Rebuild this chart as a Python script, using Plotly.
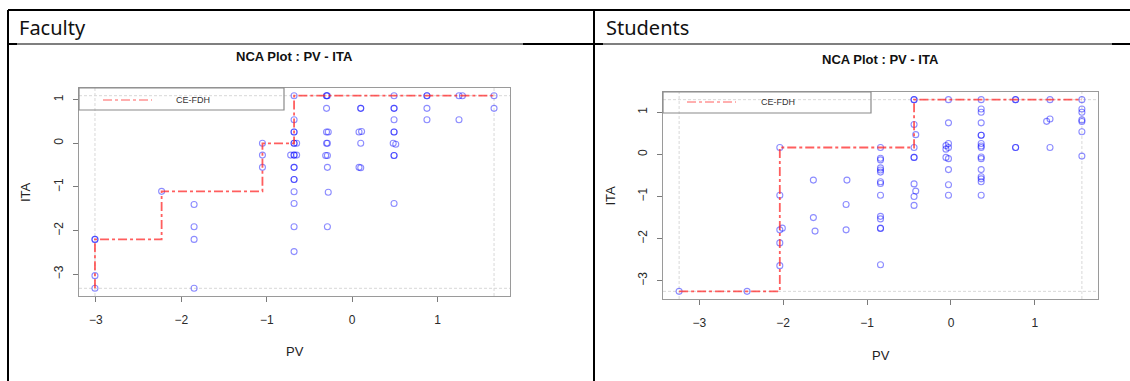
import plotly.graph_objects as go

W, H = 1130, 381

# ---- Faculty: PV (x) and ITA (y) scores ----
fac_pv = [
    -3.01, -3.01, -3.01, -3.01,
    -2.23,
    -1.85, -1.85, -1.85, -1.85,
    -1.05, -1.05, -1.05,
    -0.68, -0.68, -0.68, -0.68, -0.68, -0.68, -0.65, -0.72, -0.68, -0.68, -0.65,
    -0.68, -0.68, -0.68, -0.68, -0.68, -0.68, -0.68, -0.68,
    -0.30, -0.29, -0.30, -0.30, -0.30, -0.28, -0.30, -0.29, -0.31, -0.29, -0.29, -0.28, -0.29,
    0.10, 0.10, 0.08, 0.11, 0.10, 0.08, 0.10,
    0.49, 0.49, 0.49, 0.49, 0.49, 0.49, 0.48, 0.51, 0.49, 0.49, 0.49,
    0.875, 0.875, 0.875, 0.875,
    1.25, 1.29, 1.25,
    1.66, 1.66,
]
fac_ita = [
    -2.20, -2.20, -3.03, -3.32,
    -1.10,
    -1.40, -1.91, -2.20, -3.32,
    0.00, -0.27, -0.55,
    1.09, 0.54, 0.26, 0.26, 0.00, 0.00, 0.00, -0.27, -0.27, -0.27, -0.27,
    -0.55, -0.55, -0.83, -0.83, -1.11, -1.38, -1.91, -2.48,
    1.09, 1.09, 1.09, 0.80, 0.26, 0.26, 0.00, 0.00, -0.28, -0.28, -0.55, -1.12, -1.91,
    0.80, 0.80, 0.26, 0.27, 0.00, -0.55, -0.56,
    1.09, 0.80, 0.80, 0.54, 0.26, 0.26, 0.00, -0.02, -0.28, -0.28, -1.38,
    1.09, 1.09, 0.80, 0.54,
    1.09, 1.09, 0.54,
    1.09, 0.80,
]
# CE-FDH ceiling peers (Faculty)
fac_peer_pv = [-3.01, -2.23, -1.05, -0.68]
fac_peer_ita = [-2.20, -1.10, 0.00, 1.09]

# ---- Students: PV (x) and ITA (y) scores ----
stu_pv = [
    -3.24, -2.43,
    -2.04, -2.04, -2.04, -2.01, -2.04, -2.04,
    -1.64, -1.64, -1.62,
    -1.24, -1.25, -1.25,
    -0.84, -0.84, -0.84, -0.84, -0.84, -0.84, -0.84, -0.84, -0.84, -0.84, -0.84, -0.84, -0.84, -0.84,
    -0.44, -0.44, -0.44, -0.42, -0.44, -0.44, -0.44, -0.44, -0.42, -0.44, -0.44,
    -0.03, -0.03, -0.03, -0.06, -0.03, -0.06, -0.06, -0.03, -0.03, -0.03, -0.03,
    0.36, 0.36, 0.36, 0.36, 0.36, 0.36, 0.36, 0.36, 0.36, 0.36, 0.36, 0.36, 0.36, 0.36, 0.36, 0.36,
    0.77, 0.77, 0.77, 0.77,
    1.18, 1.18, 1.14, 1.18,
    1.56, 1.56, 1.56, 1.56, 1.56, 1.56, 1.56,
]
stu_ita = [
    -3.25, -3.25,
    0.165, -0.97, -1.79, -1.75, -2.10, -2.64,
    -0.61, -1.50, -1.82,
    -0.61, -1.19, -1.79,
    0.165, -0.09, -0.13, -0.32, -0.37, -0.42, -0.65, -0.69, -0.97, -1.47, -1.53, -1.75, -1.76, -2.62,
    1.30, 1.30, 0.71, 0.47, 0.165, -0.07, -0.07, -0.70, -0.87, -1.00, -1.21,
    1.30, 0.75, 0.26, 0.21, 0.165, 0.125, -0.07, -0.10, -0.36, -0.72, -0.97,
    1.30, 1.08, 1.00, 0.75, 0.455, 0.455, 0.26, 0.20, 0.165, -0.06, -0.10, -0.36, -0.53, -0.58, -0.65, -0.97,
    1.30, 1.30, 0.165, 0.165,
    1.30, 0.84, 0.785, 0.165,
    1.30, 1.08, 1.00, 0.82, 0.78, 0.54, -0.04,
]
# CE-FDH ceiling peers (Students)
stu_peer_pv = [-3.24, -2.04, -0.44]
stu_peer_ita = [-3.25, 0.165, 1.30]

panel_titles = ["Faculty", "Students"]
plot_title = "NCA Plot : PV - ITA"
tick_vals = [-3, -2, -1, 0, 1]

POINT_COLOR = "rgba(0,0,255,0.45)"
CEIL_COLOR = "rgba(255,40,40,0.75)"
R_FONT = "Liberation Sans, Arial, sans-serif"


def padded(vals):
    lo, hi = min(vals), max(vals)
    d = 0.04 * (hi - lo)
    return [lo - d, hi + d]


def px_x(p):
    return p / W


def px_y(p):
    return 1 - p / H


fig = go.Figure()

panels = [
    dict(pv=fac_pv, ita=fac_ita, ppv=fac_peer_pv, pita=fac_peer_ita,
         box=(79, 510, 88, 296), xa="x", ya="y", leg_right=284, leg_bot=110,
         leg_line=(103, 152, 100), leg_text=174, title_y=57,
         ita_x=25, pv_y=351),
    dict(pv=stu_pv, ita=stu_ita, ppv=stu_peer_pv, pita=stu_peer_ita,
         box=(663, 1098, 92, 299), xa="x2", ya="y2", leg_right=871, leg_bot=113,
         leg_line=(687, 736, 102), leg_text=759, title_y=60,
         ita_x=610, pv_y=355),
]

shapes = []
annotations = []
layout_axes = {}

for i, p in enumerate(panels):
    x0, x1, y0, y1 = p["box"]
    xa, ya = p["xa"], p["ya"]
    xr = padded(p["pv"])
    yr = padded(p["ita"])
    xmin, xmax = min(p["pv"]), max(p["pv"])
    ymin, ymax = min(p["ita"]), max(p["ita"])

    # scatter of observations
    fig.add_trace(go.Scatter(
        x=p["pv"], y=p["ita"], mode="markers", xaxis=xa, yaxis=ya,
        marker=dict(symbol="circle-open", size=6, color=POINT_COLOR,
                    line=dict(width=1.1, color=POINT_COLOR)),
        showlegend=False, hoverinfo="x+y"))

    # CE-FDH step ceiling through the peers
    cx = [p["ppv"][0]] + list(p["ppv"]) + [xmax]
    cy = [ymin] + list(p["pita"]) + [p["pita"][-1]]
    fig.add_trace(go.Scatter(
        x=cx, y=cy, mode="lines", line_shape="hv", xaxis=xa, yaxis=ya,
        line=dict(color=CEIL_COLOR, width=1.8, dash="dashdot"),
        showlegend=False, hoverinfo="skip"))

    ax_common = dict(
        showgrid=False, zeroline=False, showline=True, mirror=True,
        linecolor="#9a9a9a", linewidth=1.3, ticks="outside", ticklen=5,
        tickcolor="#7a7a7a", tickwidth=1, tickvals=tick_vals,
        tickfont=dict(family=R_FONT, size=12, color="#2a2a2a"),
    )
    xkey = "xaxis" if i == 0 else "xaxis2"
    ykey = "yaxis" if i == 0 else "yaxis2"
    layout_axes[xkey] = dict(ax_common, domain=[px_x(x0), px_x(x1)],
                             range=xr, anchor=ya, ticklabelstandoff=7)
    layout_axes[ykey] = dict(ax_common, domain=[px_y(y1), px_y(y0)],
                             range=yr, anchor=xa, tickangle=-90,
                             ticklabelstandoff=5)

    # scope lines (light, finely dashed)
    dash_line = dict(color="#d8d8d8", width=1, dash="3px,2px")
    for xv in (xmin, xmax):
        shapes.append(dict(type="line", xref=xa, yref=f"{ya} domain",
                           x0=xv, x1=xv, y0=0, y1=1, line=dash_line, layer="below"))
    for yv in (ymin, ymax):
        shapes.append(dict(type="line", xref=f"{xa} domain", yref=ya,
                           x0=0, x1=1, y0=yv, y1=yv, line=dash_line, layer="below"))

    # legend box
    shapes.append(dict(type="rect", xref="paper", yref="paper",
                       x0=px_x(x0), x1=px_x(p["leg_right"]),
                       y0=px_y(p["leg_bot"]), y1=px_y(y0),
                       line=dict(color="#8a8a8a", width=1.2)))
    lx0, lx1, ly = p["leg_line"]
    shapes.append(dict(type="line", xref="paper", yref="paper",
                       x0=px_x(lx0), x1=px_x(lx1), y0=px_y(ly), y1=px_y(ly),
                       line=dict(color=CEIL_COLOR, width=1, dash="dashdot")))
    annotations.append(dict(text="CE-FDH", xref="paper", yref="paper",
                            x=px_x(p["leg_text"]), y=px_y(ly), xanchor="left",
                            yanchor="middle", showarrow=False,
                            font=dict(family=R_FONT, size=9, color="#333")))

    # plot title and axis titles
    annotations.append(dict(text=f"<b>{plot_title}</b>", xref="paper", yref="paper",
                            x=px_x((x0 + x1) / 2), y=px_y(p["title_y"]),
                            xanchor="center", yanchor="middle", showarrow=False,
                            font=dict(family=R_FONT, size=13, color="#111")))
    annotations.append(dict(text="ITA", xref="paper", yref="paper",
                            x=px_x(p["ita_x"]), y=px_y((y0 + y1) / 2),
                            textangle=-90, xanchor="center", yanchor="middle",
                            showarrow=False,
                            font=dict(family=R_FONT, size=13, color="#222")))
    annotations.append(dict(text="PV", xref="paper", yref="paper",
                            x=px_x((x0 + x1) / 2), y=px_y(p["pv_y"]),
                            xanchor="center", yanchor="middle", showarrow=False,
                            font=dict(family=R_FONT, size=13, color="#222")))

# table header texts
for txt, xpos in zip(panel_titles, (17, 604)):
    annotations.append(dict(text=txt, xref="paper", yref="paper",
                            x=px_x(xpos), y=px_y(28), xanchor="left",
                            yanchor="middle", showarrow=False,
                            font=dict(family="Noto Sans, sans-serif", size=20,
                                      color="#111")))

# table rules
rule = dict(color="#000", width=2)
thin = dict(color="#000", width=1.2)
table_lines = [
    (8, 10, 1130, 10, rule),      # top border
    (8, 10, 8, 381, rule),        # left border
    (594, 10, 594, 381, rule),    # middle divider
    (8, 44, 1130, 44, thin),      # header separator
    (523, 44, 603, 44, rule),
    (1112, 44, 1130, 44, rule),
    (8, 44, 17, 44, rule),
]
for ax0, ay0, ax1, ay1, ln in table_lines:
    shapes.append(dict(type="line", xref="paper", yref="paper",
                       x0=px_x(ax0), y0=px_y(ay0), x1=px_x(ax1), y1=px_y(ay1),
                       line=ln))

fig.update_layout(
    width=W, height=H, autosize=False,
    margin=dict(l=0, r=0, t=0, b=0),
    paper_bgcolor="white", plot_bgcolor="white",
    shapes=shapes, annotations=annotations, showlegend=False,
    **layout_axes,
)

fig.write_html("out.html")
